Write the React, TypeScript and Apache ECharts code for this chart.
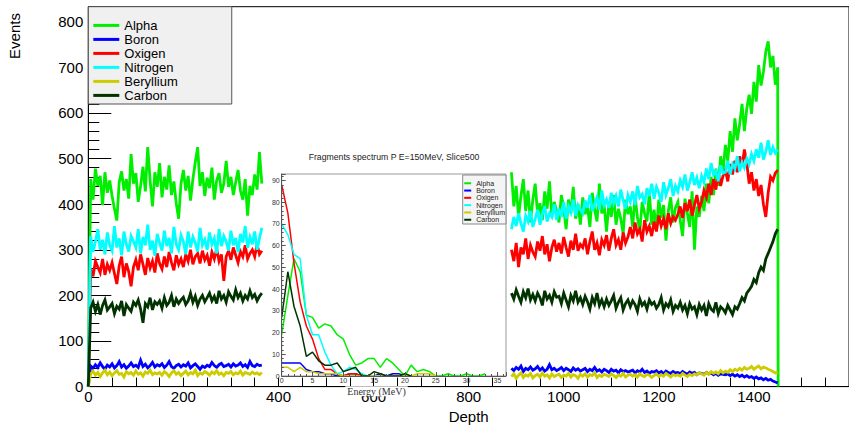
import React, { useEffect, useRef } from "react";
import * as echarts from "echarts";

// ---------- data ----------
const seriesNames = ["Alpha", "Boron", "Oxigen", "Nitrogen", "Beryllium", "Carbon"];
const seriesColors = ["#00ee00", "#0000ff", "#ff0000", "#00ffff", "#cccc00", "#003300"];

// main histogram: depth sampled every 5 units, left part 0..365, right part 890..1450
const depthStep = 5;
const leftStart = 0;
const rightStart = 890;
const endDepth = 1451;

const alphaLeft = [
  0, 455, 410, 478, 440, 462, 398, 470, 425, 452,
  418, 390, 364, 448, 472, 430, 455, 412, 510, 445,
  468, 405, 440, 482, 428, 525, 452, 395, 470, 438,
  490, 415, 460, 432, 485, 420, 450, 402, 368, 445,
  475, 430, 462, 408, 455, 492, 525, 440, 470, 418,
  458, 435, 480, 410, 452, 468, 425, 445, 495, 438,
  460, 420, 448, 475, 430, 410, 455, 375, 440, 420,
  465, 432, 514, 445,
];
const boronLeft = [
  0, 45, 40, 48, 42, 52, 44, 38, 47, 43,
  50, 41, 46, 55, 43, 48, 40, 45, 52, 44,
  47, 42, 58, 44, 49, 41, 46, 53, 43, 48,
  45, 50, 42, 47, 55, 44, 40, 46, 49, 43,
  48, 45, 52, 41, 46, 50, 44, 38, 45, 42,
  47, 44, 53, 46, 42, 48, 51, 44, 46, 49,
  43, 50, 45, 47, 52, 44, 48, 42, 55, 46,
  44, 49, 46, 47,
];
const oxigenLeft = [
  0, 258, 242, 275, 262, 250, 280, 245, 268, 255,
  272, 248, 225, 265, 285, 240, 270, 252, 220, 262,
  278, 255, 290, 268, 245, 282, 260, 275, 250, 292,
  270, 258, 285, 262, 295, 272, 255, 288, 268, 280,
  262, 290, 275, 300, 268, 285, 292, 270, 298, 278,
  288, 265, 295, 280, 302, 275, 290, 232, 285, 298,
  278, 305, 288, 272, 296, 285, 310, 280, 292, 300,
  285, 312, 290, 298,
];
const nitrogenLeft = [
  0, 330, 295, 318, 345, 300, 322, 290, 338, 310,
  298, 352, 305, 325, 288, 340, 312, 296, 330, 318,
  305, 345, 292, 328, 310, 355, 300, 320, 287, 335,
  315, 298, 342, 308, 326, 292, 350, 312, 300, 332,
  318, 290, 340, 305, 328, 315, 296, 348, 310, 322,
  300, 338, 312, 325, 292, 345, 308, 330, 318, 298,
  342, 310, 326, 295, 335, 316, 352, 304, 328, 312,
  340, 300, 325, 348,
];
const berylliumLeft = [
  0, 28, 34, 25, 31, 22, 30, 36, 26, 32,
  24, 30, 35, 27, 29, 21, 33, 28, 31, 25,
  34, 27, 30, 23, 32, 29, 36, 26, 30, 28,
  31, 25, 33, 29, 22, 30, 35, 27, 31, 24,
  29, 34, 26, 31, 28, 36, 24, 30, 27, 33,
  30, 25, 32, 28, 35, 27, 30, 24, 31, 29,
  33, 26, 30, 28, 34, 25, 31, 29, 27, 32,
  28, 30, 26, 31,
];
const carbonLeft = [
  0, 172, 185, 165, 180, 158, 178, 190, 168, 175,
  182, 160, 176, 170, 188, 155, 180, 172, 165, 185,
  178, 190, 170, 140, 182, 175, 195, 168, 186, 180,
  188, 172, 195, 178, 185, 200, 175, 192, 182, 190,
  196, 180, 188, 205, 185, 198, 178, 192, 200, 186,
  195, 205, 188, 198, 182, 210, 192, 200, 185, 208,
  198, 190, 212, 195, 205, 188, 200, 192, 210, 195,
  202, 188, 198, 205,
];

const alphaRight = [
  470, 395, 440, 372, 418, 455, 385, 430, 360, 410,
  445, 378, 402, 365, 428, 390, 450, 372, 405, 385,
  360, 420, 392, 345, 410, 380, 438, 368, 400, 355,
  415, 378, 395, 350, 425, 388, 362, 445, 380, 398,
  340, 402, 372, 420, 355, 390, 368, 335, 410, 378,
  395, 350, 418, 372, 340, 405, 380, 362, 425, 355,
  388, 345, 410, 370, 398, 320, 385, 415, 360, 392,
  405, 365, 330, 412, 380, 350, 428, 300, 395, 372,
  418, 385, 445, 402, 460, 420, 478, 440, 505, 470,
  530, 495, 560, 515, 588, 540, 575, 620, 560, 610,
  640, 598, 668, 625, 705, 660, 690, 735, 757, 700,
  725, 662, 700,
];
const boronRight = [
  40, 35, 42, 38, 45, 33, 40, 37, 43, 36,
  39, 44, 36, 41, 34, 38, 48, 37, 40, 35,
  38, 42, 35, 40, 37, 33, 41, 36, 39, 34,
  37, 40, 33, 38, 35, 42, 34, 37, 32, 38,
  35, 31, 38, 34, 36, 30, 37, 33, 35, 32,
  34, 36, 30, 35, 32, 38, 31, 34, 29, 33,
  32, 35, 30, 33, 28, 34, 31, 29, 33, 30,
  31, 28, 33, 30, 27, 32, 29, 31, 26, 30,
  29, 27, 31, 28, 30, 26, 29, 25, 28, 27,
  26, 28, 24, 27, 23, 26, 22, 25, 21, 24,
  20, 22, 18, 21, 17, 19, 15, 18, 14, 16,
  12, 10, 8,
];
const oxigenRight = [
  300, 275, 315, 262, 305, 290, 325, 280, 310, 295,
  285, 318, 298, 330, 290, 312, 275, 305, 322, 296,
  315, 292, 328, 305, 285, 320, 300, 335, 298, 312,
  305, 325, 290, 318, 340, 300, 315, 288, 322, 310,
  332, 298, 325, 345, 310, 322, 300, 338, 315, 328,
  350, 325, 360, 335, 345, 318, 365, 340, 352, 330,
  362, 340, 375, 352, 368, 345, 380, 358, 372, 365,
  378, 395, 370, 402, 385, 410, 375, 398, 420, 390,
  405, 430, 415, 445, 420, 455, 432, 468, 440, 462,
  475, 450, 488, 465, 495, 470, 505, 482, 520, 490,
  445, 470, 430, 455, 418, 442, 400, 372, 425, 460,
  452, 468, 475,
];
const nitrogenRight = [
  345, 372, 352, 380, 358, 340, 375, 362, 385, 350,
  368, 388, 355, 378, 395, 362, 380, 372, 400, 365,
  390, 372, 405, 368, 395, 382, 410, 375, 398, 388,
  380, 408, 392, 420, 385, 400, 415, 388, 430, 398,
  410, 392, 425, 402, 418, 395, 432, 408, 390, 420,
  405, 428, 398, 440, 415, 422, 400, 435, 418, 445,
  412, 438, 425, 405, 448, 420, 435, 455, 418, 440,
  428, 452, 438, 465, 430, 448, 470, 442, 458, 435,
  462, 448, 478, 455, 490, 465, 472, 450, 485, 468,
  470, 495, 465, 488, 478, 505, 472, 492, 480, 500,
  488, 510, 495, 520, 502, 535, 498, 515, 540, 508,
  525, 512, 520,
];
const berylliumRight = [
  22, 28, 18, 25, 30, 20, 26, 23, 29, 19,
  24, 27, 21, 30, 23, 26, 19, 28, 22, 25,
  27, 20, 25, 23, 29, 21, 26, 24, 18, 27,
  23, 28, 21, 26, 24, 30, 20, 25, 22, 27,
  25, 22, 28, 24, 20, 26, 23, 29, 21, 25,
  27, 23, 26, 21, 28, 24, 22, 27, 25, 20,
  24, 28, 22, 26, 23, 29, 25, 21, 27, 24,
  26, 23, 29, 25, 22, 27, 24, 28, 26, 30,
  28, 25, 31, 27, 33, 29, 32, 28, 35, 30,
  34, 31, 37, 33, 38, 35, 40, 36, 42, 38,
  40, 44, 38, 42, 45, 39, 43, 41, 38, 36,
  33, 30, 32,
];
const carbonRight = [
  205, 192, 212, 198, 185, 208, 195, 215, 190, 202,
  188, 205, 195, 178, 210, 192, 200, 185, 208, 196,
  198, 182, 205, 190, 175, 200, 188, 210, 185, 195,
  180, 198, 186, 170, 195, 182, 205, 178, 190, 175,
  192, 178, 188, 200, 172, 185, 195, 168, 182, 190,
  175, 188, 180, 165, 192, 178, 185, 170, 190, 180,
  185, 172, 180, 195, 168, 182, 175, 190, 165, 178,
  172, 185, 168, 178, 160, 182, 170, 175, 158, 180,
  168, 178, 155, 182, 170, 165, 185, 160, 175, 170,
  162, 178, 168, 158, 175, 170, 182, 195, 188, 205,
  212, 220, 235, 228, 250, 262, 255, 280, 292, 305,
  318, 335, 345,
];

// inset: fragments spectrum, one value per MeV starting at 0
const insetAlpha = [19, 37, 54, 48, 28, 27, 22, 24, 23, 19, 17, 10, 5, 6, 8, 8, 4, 8, 6, 3, 0, 5, 2, 3, 2, 0, 0, 1, 0, 0, 1, 0, 0, 1];
const insetBoron = [6, 6, 6, 6, 3, 2, 2, 1, 1, 0, 0, 1, 1, 0, 0, 0, 1, 0, 1, 1, 0];
const insetOxigen = [88, 75, 52, 34, 23, 17, 8, 3, 3, 1, 0, 1, 1, 0, 0, 0, 0, 0, 0, 0, 0];
const insetNitrogen = [70, 65, 56, 54, 28, 19, 19, 11, 5, 1, 2, 4, 3, 1, 0, 0, 0, 0, 0, 0, 0];
const insetBeryllium = [4, 4, 2, 4, 2, 2, 1, 1, 1, 1, 0, 0, 0, 0, 0, 0, 0, 0, 0, 0, 0, 0, 1, 1, 1, 0];
const insetCarbon = [27, 48, 32, 23, 9, 11, 7, 5, 5, 6, 2, 3, 4, 0, 0, 2, 1, 0, 0, 0, 1, 0];

const mainLeft = [alphaLeft, boronLeft, oxigenLeft, nitrogenLeft, berylliumLeft, carbonLeft];
const mainRight = [alphaRight, boronRight, oxigenRight, nitrogenRight, berylliumRight, carbonRight];
const insetData = [insetAlpha, insetBoron, insetOxigen, insetNitrogen, insetBeryllium, insetCarbon];

const mainXTicks = [0, 200, 400, 600, 800, 1000, 1200, 1400];
const mainYTicks = [0, 100, 200, 300, 400, 500, 600, 700, 800];

const SANS = "'Liberation Sans', Arial, Helvetica, sans-serif";
const SERIF = "'Liberation Serif', 'Times New Roman', serif";

function buildMain(idx: number) {
  const pts: any[] = [];
  mainLeft[idx].forEach((v, i) => pts.push([leftStart + i * depthStep, v]));
  const lastLeft = leftStart + (mainLeft[idx].length - 1) * depthStep;
  pts.push([(lastLeft + rightStart) / 2, null]);
  mainRight[idx].forEach((v, i) => pts.push([rightStart + i * depthStep, v]));
  if (idx === 0) pts.push([endDepth, 0]);
  return pts;
}

export default function App() {
  const ref = useRef<HTMLDivElement>(null);
  useEffect(() => {
    if (!ref.current) return;
    const chart = echarts.init(ref.current, undefined, { renderer: "svg" });

    const mainSeries = seriesNames.map((n, i) => ({
      name: n,
      type: "line",
      xAxisIndex: 0,
      yAxisIndex: 0,
      data: buildMain(i),
      showSymbol: false,
      symbol: "none",
      connectNulls: false,
      lineStyle: { width: 2.8, color: seriesColors[i], join: "miter" },
      itemStyle: { color: seriesColors[i] },
      z: 2 + i * 0.01,
    }));
    const insetSeries = seriesNames.map((n, i) => ({
      name: n,
      type: "line",
      xAxisIndex: 1,
      yAxisIndex: 1,
      data: insetData[i].map((v, k) => [k, v]),
      showSymbol: false,
      symbol: "none",
      lineStyle: { width: 1.5, color: seriesColors[i] },
      itemStyle: { color: seriesColors[i] },
      z: 3,
    }));

    chart.setOption({
      animation: false,
      backgroundColor: "#ffffff",
      textStyle: { fontFamily: SANS },
      grid: [
        {
          left: 88.3, top: 6.7, right: -4.3, bottom: 33.3,
          show: true, borderColor: "#000", borderWidth: 1, backgroundColor: "transparent",
        },
        {
          left: 281.7, top: 174, width: 224.3, height: 202,
          show: true, borderColor: "#999", borderWidth: 1, backgroundColor: "#ffffff", z: 3,
        },
      ],
      xAxis: [
        {
          gridIndex: 0, type: "value", min: 0, max: 1600, interval: 200,
          name: "Depth", nameLocation: "middle", nameGap: 18,
          nameTextStyle: { fontSize: 15, color: "#000", fontFamily: SANS },
          axisLine: { show: true, onZero: false, lineStyle: { color: "#000", width: 1 } },
          axisTick: { show: true, inside: true, length: 9, lineStyle: { color: "#000" } },
          minorTick: { show: true, splitNumber: 4, length: 9, lineStyle: { color: "#000" } },
          splitLine: { show: false },
          axisLabel: {
            fontSize: 15, color: "#000", margin: 2.5, fontFamily: SANS, showMaxLabel: false,
            formatter: (v: number) => (mainXTicks.includes(v) ? String(v) : ""),
          },
        },
        {
          gridIndex: 1, type: "value", min: 0, max: 36.4, interval: 5,
          axisLine: { show: true, onZero: false, lineStyle: { color: "#555", width: 1 } },
          axisTick: { show: true, inside: true, length: 4, lineStyle: { color: "#555" } },
          minorTick: { show: true, splitNumber: 5, length: 2, lineStyle: { color: "#555" } },
          splitLine: { show: false },
          axisLabel: { fontSize: 7, lineHeight: 7, color: "#333", margin: 1, fontFamily: SANS, showMaxLabel: false },
          z: 4,
        },
      ],
      yAxis: [
        {
          gridIndex: 0, type: "value", min: 0, max: 833, interval: 100,
          axisLine: { show: true, onZero: false, lineStyle: { color: "#000", width: 1 } },
          axisTick: { show: true, inside: true, length: 23, lineStyle: { color: "#000" } },
          minorTick: { show: true, splitNumber: 5, length: 11, lineStyle: { color: "#000" } },
          splitLine: { show: false },
          axisLabel: {
            fontSize: 15, color: "#000", margin: 5, fontFamily: SANS, showMaxLabel: false,
            formatter: (v: number) => (mainYTicks.includes(v) ? String(v) : ""),
          },
        },
        {
          gridIndex: 1, type: "value", min: 0, max: 93, interval: 10,
          axisLine: { show: true, onZero: false, lineStyle: { color: "#555", width: 1 } },
          axisTick: { show: true, inside: true, length: 4, lineStyle: { color: "#555" } },
          minorTick: { show: true, splitNumber: 5, length: 2, lineStyle: { color: "#555" } },
          splitLine: { show: false },
          axisLabel: { fontSize: 7, color: "#333", margin: 2, fontFamily: SANS, showMaxLabel: false },
          z: 4,
        },
      ],
      legend: [
        {
          data: seriesNames,
          orient: "vertical",
          left: 88.3,
          top: 6.7,
          padding: [11.7, 54, 1.6, 5],
          itemWidth: 26,
          itemHeight: 3,
          itemGap: 0,
          icon: "rect",
          selectedMode: false,
          backgroundColor: "#f0f0f0",
          borderColor: "#555",
          borderWidth: 1,
          textStyle: { fontSize: 13, lineHeight: 14, color: "#000", fontFamily: SANS },
          z: 10,
        },
        {
          data: seriesNames,
          orient: "vertical",
          left: 462.7,
          top: 175,
          padding: [4.6, 1, 0.6, 1.5],
          itemWidth: 7,
          itemHeight: 2,
          itemGap: 0,
          icon: "rect",
          selectedMode: false,
          backgroundColor: "#f4f4f4",
          borderColor: "#888",
          borderWidth: 1,
          textStyle: { fontSize: 7, lineHeight: 7.3, color: "#222", fontFamily: SANS },
          z: 10,
        },
      ],
      graphic: [
        {
          type: "text",
          x: 14,
          y: 36,
          rotation: Math.PI / 2,
          style: { text: "Events", font: `15px ${SANS}`, fill: "#000", align: "center", verticalAlign: "middle" },
          z: 10,
        },
        {
          type: "text",
          x: 394,
          y: 157,
          style: {
            text: "Fragments spectrum P E=150MeV, Slice500",
            font: `8.7px ${SANS}`, fill: "#222", align: "center", verticalAlign: "middle",
          },
          z: 10,
        },
        {
          type: "text",
          x: 376.5,
          y: 391.3,
          style: {
            text: "Energy (MeV)", font: `10px ${SERIF}`, lineHeight: 10, fill: "#333",
            align: "center", verticalAlign: "middle", backgroundColor: "#ffffff", padding: [0, 2],
          },
          z: 10,
        },
      ],
      series: [...mainSeries, ...insetSeries],
    });
    return () => chart.dispose();
  }, []);
  return (
    <div
      ref={ref}
      style={{ position: "fixed", left: 0, top: 0, width: 849, height: 429, overflow: "hidden", background: "#fff" }}
    />
  );
}
